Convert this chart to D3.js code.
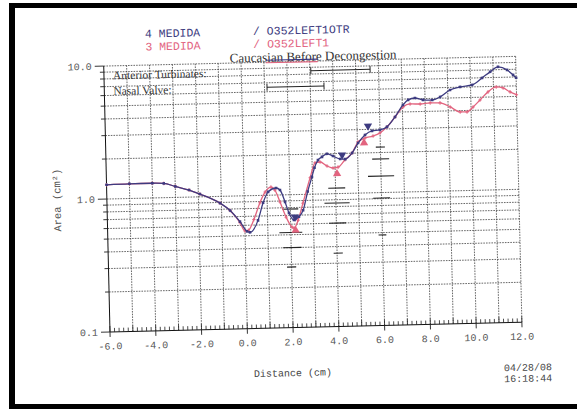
<!DOCTYPE html>
<html>
<head>
<meta charset="utf-8">
<script src="https://cdn.jsdelivr.net/npm/d3@7"></script>
<style>
  html, body { margin: 0; padding: 0; background: #fff; }
  svg { display: block; }
</style>
</head>
<body>
<script>
// Acoustic rhinometry: cross-sectional area vs distance, two measurements
const xTicks = [-6, -4, -2, 0, 2, 4, 6, 8, 10, 12];
const xTickLabels = ["-6.0", "-4.0", "-2.0", "0.0", "2.0", "4.0", "6.0", "8.0", "10.0", "12.0"];
const yTicks = [0.1, 1, 10];
const yTickLabels = ["0.1", "1.0", "10.0"];

// measurement 4 (O352LEFT1OTR)
const dist4 = [-6.0, -5.0, -4.0, -3.5, -3.0, -2.4, -1.93, -1.06, -0.63, -0.21, 0.09, 0.22, 0.58, 0.82, 1.05, 1.40, 1.57, 1.78, 1.94, 2.15, 2.37, 2.56, 2.78, 2.98, 3.10, 3.26, 3.44, 3.66, 3.92, 4.23, 4.45, 4.76, 5.03, 5.34, 5.65, 6.0, 6.31, 6.67, 7.03, 7.26, 7.56, 7.91, 8.31, 8.66, 9.10, 9.54, 10.07, 10.51, 10.87, 11.22, 11.61, 11.87, 12.0];
const area4 = [1.28, 1.29, 1.29, 1.28, 1.21, 1.13, 1.05, 0.89, 0.78, 0.64, 0.54, 0.53, 0.65, 0.88, 1.06, 1.13, 1.09, 0.885, 0.73, 0.645, 0.68, 0.76, 1.05, 1.35, 1.58, 1.80, 1.90, 2.0, 1.92, 1.82, 1.81, 2.01, 2.38, 2.73, 2.92, 2.96, 3.11, 3.68, 4.52, 4.92, 5.07, 4.89, 4.86, 5.11, 5.74, 6.03, 6.21, 6.98, 7.73, 8.40, 7.94, 7.26, 6.9];

// measurement 3 (O352LEFT1)
const dist3 = [-6.0, -5.0, -4.0, -3.5, -3.0, -2.4, -1.93, -1.06, -0.63, -0.21, 0.0, 0.15, 0.40, 0.68, 0.92, 1.18, 1.35, 1.56, 1.81, 2.06, 2.15, 2.33, 2.56, 2.90, 3.13, 3.35, 3.65, 3.91, 4.13, 4.44, 4.76, 5.03, 5.34, 5.69, 6.0, 6.31, 6.67, 7.03, 7.34, 7.78, 8.22, 8.65, 9.09, 9.52, 9.82, 10.09, 10.40, 10.76, 11.12, 11.42, 11.72, 12.0];
const area3 = [1.28, 1.29, 1.29, 1.28, 1.21, 1.13, 1.05, 0.89, 0.78, 0.63, 0.545, 0.55, 0.66, 0.88, 1.06, 1.15, 1.09, 0.885, 0.68, 0.57, 0.56, 0.64, 0.86, 1.33, 1.72, 1.74, 1.62, 1.56, 1.58, 1.79, 2.01, 2.43, 2.59, 2.67, 2.81, 3.11, 3.68, 4.36, 4.58, 4.56, 4.63, 4.61, 4.28, 3.91, 3.90, 4.24, 4.77, 5.47, 5.94, 5.82, 5.42, 5.15];

// minimal cross-sectional area markers
const minDist4 = [2.20, 4.32, 5.48];
const minArea4 = [0.68, 1.95, 3.18];
const minDist3 = [2.21, 4.08, 5.29];
const minArea3 = [0.54, 1.41, 2.38];

// normative reference bars: centre distance, area, half width (cm)
const normDist = [2.0, 2.0, 2.05, 2.0, 4.05, 4.05, 4.05, 4.05, 6.0, 6.0, 6.0, 6.0, 6.0];
const normArea = [0.78, 0.52, 0.40, 0.286, 1.10, 0.85, 0.60, 0.357, 2.20, 1.79, 1.33, 0.91, 0.48];
const normHalf = [0.35, 0.5, 0.4, 0.2, 0.37, 0.55, 0.37, 0.2, 0.2, 0.37, 0.57, 0.37, 0.17];

// anatomical region ranges (cm)
const regionNames = ["Anterior Turbinates:", "Nasal Valve:"];
const regionStart = [3.04, 1.11];
const regionEnd = [5.63, 3.60];

const navy = "#3d3b80";
const pink = "#e2647f";
const mono = "'Liberation Mono', 'DejaVu Sans Mono', monospace";
const serif = "'Liberation Serif', 'DejaVu Serif', serif";

const W = 577, H = 409;
const svg = d3.select("body").append("svg").attr("width", W).attr("height", H);
svg.append("rect").attr("width", W).attr("height", H).attr("fill", "#fff");

// page frame
svg.append("rect").attr("x", 9).attr("y", 3).attr("width", W - 9).attr("height", 5).attr("fill", "#000");
svg.append("rect").attr("x", 9).attr("y", 3).attr("width", 6).attr("height", H - 3).attr("fill", "#000");
svg.append("rect").attr("x", 9).attr("y", 404).attr("width", W - 9).attr("height", 5).attr("fill", "#000");

// the printed sheet sits slightly skewed
const g = svg.append("g").attr("transform", "translate(110,332) rotate(-1.35)");

const PW = 412, PH = 266;
const x = d3.scaleLinear().domain([-6, 12]).range([0, PW]);
const y = d3.scaleLog().domain([0.1, 10]).range([0, -PH]);

// grid
const gridDash = "1.6,1.1";
const vLines = d3.range(-5, 13, 1);
g.append("g").selectAll("line").data(vLines).join("line")
  .attr("x1", d => x(d)).attr("x2", d => x(d))
  .attr("y1", y(0.1)).attr("y2", y(10))
  .attr("stroke", "#444").attr("stroke-width", 0.8).attr("stroke-dasharray", gridDash);

const hLines = [];
[0.1, 1].forEach(dec => { for (let k = 1; k <= 9; k++) hLines.push(dec * k); });
hLines.push(10);
const hGrid = hLines.filter(v => v > 0.1 + 1e-9);
g.append("g").selectAll("line").data(hGrid).join("line")
  .attr("x1", x(-6)).attr("x2", x(12))
  .attr("y1", d => y(d)).attr("y2", d => y(d))
  .attr("stroke", "#444").attr("stroke-width", 0.8).attr("stroke-dasharray", gridDash);

// axes
g.append("line").attr("x1", 0).attr("x2", PW).attr("y1", 0).attr("y2", 0).attr("stroke", "#111").attr("stroke-width", 1);
g.append("line").attr("x1", 0).attr("x2", 0).attr("y1", 0).attr("y2", -PH).attr("stroke", "#111").attr("stroke-width", 1);

// x minor ticks (0.2 cm) pointing up, majors down
const xMinor = d3.range(-6, 12.001, 0.2).map(v => Math.round(v * 10) / 10);
g.append("g").selectAll("line").data(xMinor).join("line")
  .attr("x1", d => x(d)).attr("x2", d => x(d))
  .attr("y1", 0).attr("y2", d => (Math.abs(d - Math.round(d)) < 1e-6 ? -6 : -4))
  .attr("stroke", "#222").attr("stroke-width", 0.8);
g.append("g").selectAll("line").data(xTicks).join("line")
  .attr("x1", d => x(d)).attr("x2", d => x(d))
  .attr("y1", 0).attr("y2", 5)
  .attr("stroke", "#222").attr("stroke-width", 0.9);

// y ticks on every log line
g.append("g").selectAll("line").data(hLines).join("line")
  .attr("x1", d => (yTicks.some(t => Math.abs(t - d) < 1e-9) ? -9 : -4)).attr("x2", 0)
  .attr("y1", d => y(d)).attr("y2", d => y(d))
  .attr("stroke", "#222").attr("stroke-width", 0.9);

// tick labels
g.append("g").selectAll("text").data(xTicks).join("text")
  .attr("x", d => x(d)).attr("y", 17.5)
  .attr("text-anchor", "middle")
  .attr("font-family", mono).attr("font-size", 10).attr("fill", "#555")
  .text((d, i) => xTickLabels[i]);
g.append("g").selectAll("text").data(yTicks).join("text")
  .attr("x", -12).attr("y", d => y(d) + 3.5)
  .attr("text-anchor", "end")
  .attr("font-family", mono).attr("font-size", 10).attr("fill", "#555")
  .text((d, i) => yTickLabels[i]);

// axis titles
g.append("text").attr("transform", "translate(-50,-133) rotate(-90)")
  .attr("text-anchor", "middle").attr("dy", "0.35em")
  .attr("font-family", mono).attr("font-size", 10.5).attr("fill", "#555")
  .text("Area (cm²)");
g.append("text").attr("x", 182).attr("y", 48.5).attr("text-anchor", "middle")
  .attr("font-family", mono).attr("font-size", 10).attr("fill", "#444")
  .text("Distance (cm)");
g.append("text").attr("x", 393).attr("y", 48.5)
  .attr("font-family", mono).attr("font-size", 10).attr("fill", "#444").text("04/28/08");
g.append("text").attr("x", 393).attr("y", 59.5)
  .attr("font-family", mono).attr("font-size", 10).attr("fill", "#444").text("16:18:44");

// header: legend and title
g.append("text").attr("x", 42).attr("y", -293.5).attr("font-family", mono).attr("font-size", 11.5)
  .attr("fill", navy).text("4 MEDIDA");
g.append("text").attr("x", 42).attr("y", -280.5).attr("font-family", mono).attr("font-size", 11.5)
  .attr("fill", pink).text("3 MEDIDA");
g.append("text").attr("x", 150).attr("y", -293.5).attr("font-family", mono).attr("font-size", 11.5)
  .attr("fill", navy).text("/ O352LEFT1OTR");
g.append("text").attr("x", 150).attr("y", -280.5).attr("font-family", mono).attr("font-size", 11.5)
  .attr("fill", pink).text("/ O352LEFT1");
g.append("text").attr("x", 209.5).attr("y", -266.5).attr("text-anchor", "middle")
  .attr("font-family", serif).attr("font-size", 13).attr("fill", "#333")
  .text("Caucasian Before Decongestion");
g.append("line").attr("x1", 162).attr("x2", 214).attr("y1", -268).attr("y2", -268)
  .attr("stroke", navy).attr("stroke-width", 1.2);
g.append("line").attr("x1", 162).attr("x2", 214).attr("y1", -265.5).attr("y2", -265.5)
  .attr("stroke", pink).attr("stroke-width", 1.2);

// region labels with range brackets
const rowY = [-256.5, -241];
regionNames.forEach((name, i) => {
  g.append("text").attr("x", 9).attr("y", rowY[i] + 4)
    .attr("font-family", serif).attr("font-size", 11.5).attr("fill", "#333").text(name);
  const rg = g.append("g").attr("stroke", "#222").attr("stroke-width", 1);
  rg.append("line").attr("x1", x(regionStart[i])).attr("x2", x(regionEnd[i])).attr("y1", rowY[i]).attr("y2", rowY[i]);
  rg.append("line").attr("x1", x(regionStart[i])).attr("x2", x(regionStart[i])).attr("y1", rowY[i] - 3.5).attr("y2", rowY[i] + 3.5);
  rg.append("line").attr("x1", x(regionEnd[i])).attr("x2", x(regionEnd[i])).attr("y1", rowY[i] - 3.5).attr("y2", rowY[i] + 3.5);
});

// normative bars
g.append("g").selectAll("line").data(normDist).join("line")
  .attr("x1", (d, i) => x(d - normHalf[i])).attr("x2", (d, i) => x(d + normHalf[i]))
  .attr("y1", (d, i) => y(normArea[i])).attr("y2", (d, i) => y(normArea[i]))
  .attr("stroke", "#222").attr("stroke-width", 1.1);

// curves
const line = d3.line().x(p => x(p[0])).y(p => y(p[1])).curve(d3.curveMonotoneX);
const pts3 = dist3.map((d, i) => [d, area3[i]]);
const pts4 = dist4.map((d, i) => [d, area4[i]]);

g.append("path").datum(pts3).attr("d", line).attr("fill", "none")
  .attr("stroke", pink).attr("stroke-width", 1.3);
g.append("g").selectAll("path").data(pts3).join("path")
  .attr("d", p => `M${x(p[0]) - 1.6},${y(p[1])}h3.2M${x(p[0])},${y(p[1]) - 1.8}v3.6`)
  .attr("stroke", pink).attr("stroke-width", 1);

g.append("path").datum(pts4).attr("d", line).attr("fill", "none")
  .attr("stroke", navy).attr("stroke-width", 1.3);
g.append("g").selectAll("rect").data(pts4).join("rect")
  .attr("x", p => x(p[0]) - 1.3).attr("y", p => y(p[1]) - 1.3)
  .attr("width", 2.6).attr("height", 2.6).attr("fill", navy);

// minimum-area triangles
const tri = d3.symbol().type(d3.symbolTriangle).size(30);
g.append("g").selectAll("path").data(minDist4).join("path")
  .attr("d", tri).attr("fill", navy)
  .attr("transform", (d, i) => `translate(${x(d)},${y(minArea4[i])}) rotate(180)`);
g.append("g").selectAll("path").data(minDist3).join("path")
  .attr("d", tri).attr("fill", pink)
  .attr("transform", (d, i) => `translate(${x(d)},${y(minArea3[i])})`);
</script>
</body>
</html>
